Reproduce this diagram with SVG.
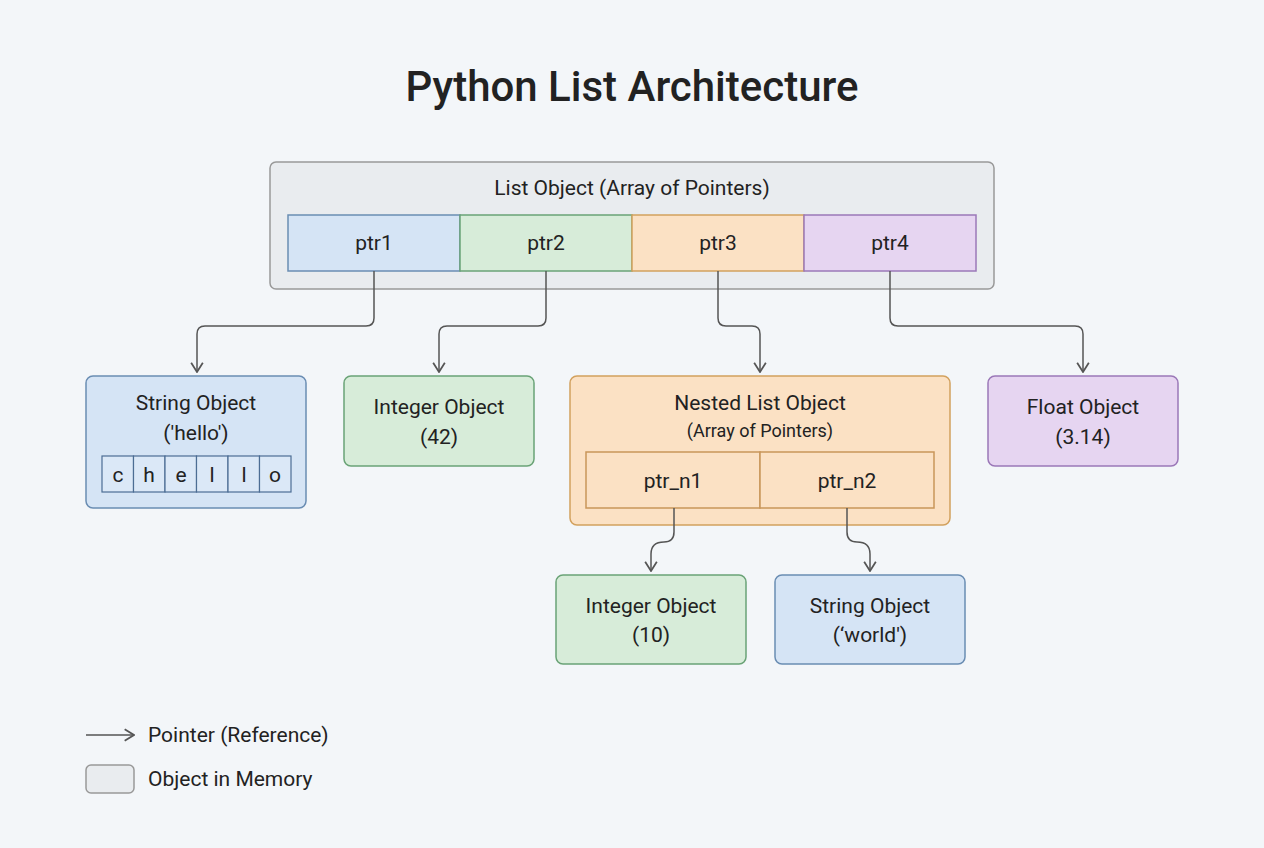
<svg xmlns="http://www.w3.org/2000/svg" width="1264" height="848" viewBox="0 0 1264 848">
<style>
text{font-family:Roboto,"Liberation Sans",sans-serif;fill:#222;text-anchor:middle}
.t{font-size:21px}
.s{font-size:18px}
.c{stroke-width:1.5}
.con path{fill:none;stroke:#555;stroke-width:1.5}
</style>
<defs><marker id="a" viewBox="0 0 12 12" refX="6" refY="11" markerWidth="12" markerHeight="12" markerUnits="userSpaceOnUse" orient="auto-start-reverse"><path d="M1,4 L6,11 L11,4" fill="none" stroke="#555" stroke-width="1.5" transform="rotate(-90 6 6) rotate(90 6 6)"/></marker>
<marker id="m" viewBox="0 0 12 12" refX="11" refY="6" markerWidth="14" markerHeight="14" markerUnits="userSpaceOnUse" orient="auto"><path d="M3,1 L11,6 L3,11" fill="none" stroke="#555" stroke-width="1.5"/></marker></defs>
<rect width="1264" height="848" fill="#f3f6f9"/>
<text x="632" y="101" style="font-size:42px;font-weight:500">Python List Architecture</text>
<g id="list"><rect x="270" y="162" width="724" height="127" rx="6" fill="#e9ecef" stroke="#999" stroke-width="1.5"/>
<text x="632" y="195" class="t">List Object (Array of Pointers)</text></g>
<g id="ptr1"><rect x="288" y="215" width="172" height="56" fill="#d5e4f5" stroke="#6a8db3" class="c"/><text x="374" y="250" class="t">ptr1</text></g>
<g id="ptr2"><rect x="460" y="215" width="172" height="56" fill="#d7ecd9" stroke="#6aa377" class="c"/><text x="546" y="250" class="t">ptr2</text></g>
<g id="ptr3"><rect x="632" y="215" width="172" height="56" fill="#fbe1c4" stroke="#d2a15e" class="c"/><text x="718" y="250" class="t">ptr3</text></g>
<g id="ptr4"><rect x="804" y="215" width="172" height="56" fill="#e6d5f1" stroke="#9b78b8" class="c"/><text x="890" y="250" class="t">ptr4</text></g>
<g id="str"><rect x="86" y="376" width="220" height="132" rx="7" fill="#d5e4f5" stroke="#6a8db3" class="c"/>
<text x="196" y="410" class="t">String Object</text><text x="196" y="440" class="t">('hello')</text>
<g fill="#dbe8f7" stroke="#4c6d94" stroke-width="1.2"><rect x="102" y="456" width="31.5" height="36"/><rect x="133.5" y="456" width="31.5" height="36"/><rect x="165" y="456" width="31.5" height="36"/><rect x="196.5" y="456" width="31.5" height="36"/><rect x="228" y="456" width="31.5" height="36"/><rect x="259.5" y="456" width="31.5" height="36"/></g>
<text x="118" y="482" class="t">c</text><text x="149" y="482" class="t">h</text><text x="181" y="482" class="t">e</text><text x="212" y="482" class="t">l</text><text x="244" y="482" class="t">l</text><text x="275" y="482" class="t">o</text></g>
<g id="int42"><rect x="344" y="376" width="190" height="90" rx="7" fill="#d7ecd9" stroke="#6aa377" class="c"/><text x="439" y="414" class="t">Integer Object</text><text x="439" y="444" class="t">(42)</text></g>
<g id="nested"><rect x="570" y="376" width="380" height="149" rx="7" fill="#fbe1c4" stroke="#d2a15e" class="c"/>
<text x="760" y="410" class="t">Nested List Object</text><text x="760" y="437" class="s">(Array of Pointers)</text>
<rect x="586" y="452" width="174" height="56" fill="#fbe1c4" stroke="#c9965a" class="c"/><rect x="760" y="452" width="174" height="56" fill="#fbe1c4" stroke="#c9965a" class="c"/>
<text x="673" y="488" class="t">ptr_n1</text><text x="847" y="488" class="t">ptr_n2</text></g>
<g id="float"><rect x="988" y="376" width="190" height="90" rx="7" fill="#e6d5f1" stroke="#9b78b8" class="c"/><text x="1083" y="414" class="t">Float Object</text><text x="1083" y="444" class="t">(3.14)</text></g>
<g id="int10"><rect x="556" y="575" width="190" height="89" rx="7" fill="#d7ecd9" stroke="#6aa377" class="c"/><text x="651" y="613" class="t">Integer Object</text><text x="651" y="642" class="t">(10)</text></g>
<g id="world"><rect x="775" y="575" width="190" height="89" rx="7" fill="#d5e4f5" stroke="#6a8db3" class="c"/><text x="870" y="613" class="t">String Object</text><text x="870" y="642" class="t">(‘world')</text></g>
<g class="con">
<path d="M374,271 V318 Q374,326 366,326 H205 Q197,326 197,334 V372" marker-end="url(#m)"/>
<path d="M546,271 V318 Q546,326 538,326 H447 Q439,326 439,334 V372" marker-end="url(#m)"/>
<path d="M718,271 V318 Q718,326 726,326 H752 Q760,326 760,334 V372" marker-end="url(#m)"/>
<path d="M890,271 V318 Q890,326 898,326 H1075 Q1083,326 1083,334 V372" marker-end="url(#m)"/>
<path d="M674,508 V532 Q674,542 664,542 Q651,542 651,554 V571" marker-end="url(#m)"/>
<path d="M847,508 V532 Q847,542 857,542 Q870,542 870,554 V571" marker-end="url(#m)"/>
<path d="M86,735 H134" marker-end="url(#m)"/>
</g>
<g id="legend"><text x="148" y="742" class="t" style="text-anchor:start">Pointer (Reference)</text>
<rect x="86" y="765" width="48" height="28" rx="5" fill="#e9ecef" stroke="#999" stroke-width="1.5"/>
<text x="148" y="786" class="t" style="text-anchor:start">Object in Memory</text></g>
</svg>
